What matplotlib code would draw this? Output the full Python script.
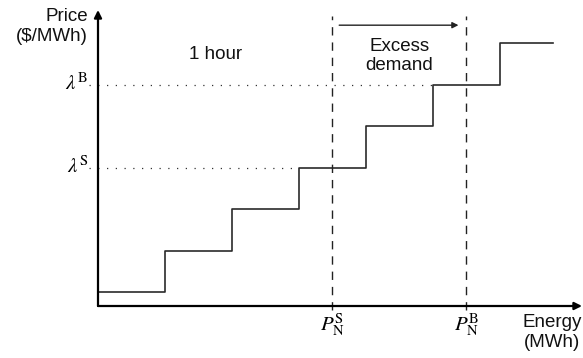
import matplotlib
matplotlib.use("Agg")
import matplotlib.pyplot as plt

# Data (arbitrary units)
step_starts = [0, 1, 2, 3, 4, 5, 6]
step_end = 6.79
step_prices = [1, 4, 7, 10, 13, 16, 19]
P_S = 3.5
P_B = 5.5
lam_S = 10
lam_B = 16

plt.rcParams['font.family'] = ['Liberation Sans', 'DejaVu Sans']
plt.rcParams['mathtext.fontset'] = 'stix'

W, H = 583, 358
fig = plt.figure(figsize=(W / 100, H / 100), dpi=100)
x0, y0 = 98, 306
ax = fig.add_axes([x0 / W, (H - y0) / H, (582 - x0) / W, (y0 - 10) / H])
xmax = (582 - x0) / 67
ymax = (y0 - 10) / (41.5 / 3)
ax.set_xlim(0, xmax)
ax.set_ylim(0, ymax)
ax.axis('off')

fs = 13.5
mfs = 15
tc = '#111111'
# axes arrows
ax.annotate('', xy=(xmax, 0), xytext=(0, 0),
            arrowprops=dict(arrowstyle='-|>', color='black', lw=1.6, mutation_scale=11,
                            shrinkA=0, shrinkB=0), annotation_clip=False)
ax.annotate('', xy=(0, ymax), xytext=(0, 0),
            arrowprops=dict(arrowstyle='-|>', color='black', lw=1.6, mutation_scale=11,
                            shrinkA=0, shrinkB=0), annotation_clip=False)

# step curve
xs = step_starts + [step_end]
ys = step_prices + [step_prices[-1]]
ax.step(xs, ys, where='post', color='#2a2a2a', lw=1.2, clip_on=False)

# dotted price levels
i_S = step_prices.index(lam_S)
i_B = step_prices.index(lam_B)
ax.plot([-0.13, step_starts[i_S]], [lam_S, lam_S], linestyle=(0, (1, 6)), color='#333333', lw=0.9, clip_on=False)
ax.plot([-0.13, step_starts[i_B]], [lam_B, lam_B], linestyle=(0, (1, 6)), color='#333333', lw=0.9, clip_on=False)

# dashed vertical lines
for xv in (P_S, P_B):
    ax.plot([xv, xv], [-0.3, 21.0], linestyle=(0, (6, 5)), color='#222222', lw=1.0, clip_on=False)

# excess demand arrow
ax.annotate('', xy=(P_B - 0.12, 20.3), xytext=(P_S + 0.1, 20.3),
            arrowprops=dict(arrowstyle='-|>', color='#222222', lw=1.0, mutation_scale=9,
                            shrinkA=0, shrinkB=0), annotation_clip=False)
ax.text((P_S + P_B) / 2, 18.1, 'Excess\ndemand', ha='center', va='center', fontsize=fs,
        linespacing=1.15, color=tc)
ax.text(1.75, 18.2, '1 hour', ha='center', va='center', fontsize=fs, color=tc)

# axis labels
ax.text(-0.15, 20.2, 'Price\n($/MWh)', ha='right', va='center', fontsize=fs,
        linespacing=1.2, color=tc, multialignment='right')
ax.text(xmax, -1.9, 'Energy\n(MWh)', ha='right', va='center', fontsize=fs,
        linespacing=1.2, color=tc, multialignment='center')

# math labels
ax.text(-0.15, lam_B + 0.1, r'$\lambda^{\mathrm{B}}$', ha='right', va='center', fontsize=mfs)
ax.text(-0.15, lam_S + 0.1, r'$\lambda^{\mathrm{S}}$', ha='right', va='center', fontsize=mfs)
ax.text(P_S, -0.35, r'$P_{\mathrm{N}}^{\mathrm{S}}$', ha='center', va='top', fontsize=mfs)
ax.text(P_B, -0.35, r'$P_{\mathrm{N}}^{\mathrm{B}}$', ha='center', va='top', fontsize=mfs)

fig.savefig('out.png', dpi=100)
